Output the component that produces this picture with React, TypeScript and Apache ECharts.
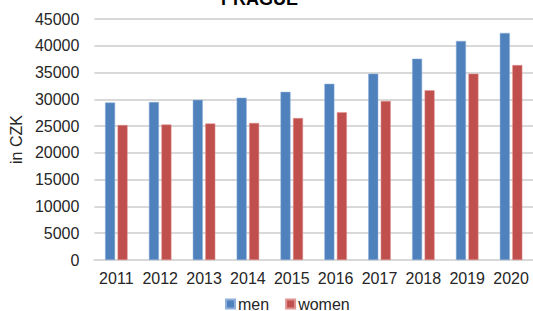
import React, { useEffect, useRef } from "react";
import * as echarts from "echarts";

const years = ["2011", "2012", "2013", "2014", "2015", "2016", "2017", "2018", "2019", "2020"];
const men = [29400, 29500, 29900, 30300, 31400, 32900, 34800, 37600, 40900, 42400];
const women = [25200, 25300, 25500, 25600, 26500, 27600, 29700, 31700, 34800, 36400];

const FONT = "'Liberation Sans', Arial, sans-serif";
const TXT = "#262626";

export default function App() {
  const ref = useRef<HTMLDivElement>(null);
  useEffect(() => {
    const chart = echarts.init(ref.current!, null, { renderer: "svg" });
    chart.setOption({
      animation: false,
      textStyle: { fontFamily: FONT },
      title: {
        text: "PRAGUE",
        left: 221,
        top: -10,
        padding: 0,
        textStyle: { fontFamily: FONT, fontSize: 18, fontWeight: "bold", color: "#000" },
      },
      legend: {
        data: ["men", "women"],
        top: 296,
        left: 225,
        padding: 0,
        itemWidth: 9,
        itemHeight: 9,
        itemGap: 16,
        icon: "rect",
        textStyle: { fontFamily: FONT, fontSize: 16, color: TXT, padding: [0, 0, 0, -2] },
      },
      grid: { left: 89, right: 0, top: 19, bottom: 51, containLabel: false },
      xAxis: {
        type: "category",
        data: years,
        axisLine: { show: true, lineStyle: { color: "#d9d9d9", width: 2 } },
        axisTick: { show: false },
        axisLabel: { fontFamily: FONT, fontSize: 16, color: TXT, margin: 10, interval: 0 },
      },
      yAxis: {
        type: "value",
        min: 0,
        max: 45000,
        interval: 5000,
        name: "in CZK",
        nameLocation: "middle",
        nameGap: 70,
        nameTextStyle: { fontFamily: FONT, fontSize: 16, color: TXT },
        axisLine: { show: false },
        axisTick: { show: false },
        axisLabel: {
          fontFamily: FONT,
          fontSize: 16,
          color: TXT,
          margin: 15,
          formatter: (v: number) => String(v),
        },
        splitLine: { lineStyle: { color: "#d9d9d9", width: 2 } },
      },
      series: [
        {
          name: "men",
          type: "bar",
          data: men,
          barWidth: 10,
          barGap: "25%",
          itemStyle: { color: "#4f81bd", borderColor: "#8fb0db", borderWidth: 0.5 },
        },
        {
          name: "women",
          type: "bar",
          data: women,
          barWidth: 10,
          itemStyle: { color: "#c0504d", borderColor: "#e09391", borderWidth: 0.5 },
        },
      ],
    });
    return () => chart.dispose();
  }, []);
  return (
    <div
      ref={ref}
      style={{ position: "fixed", left: 0, top: 0, width: 533, height: 311, background: "#fff" }}
    />
  );
}
